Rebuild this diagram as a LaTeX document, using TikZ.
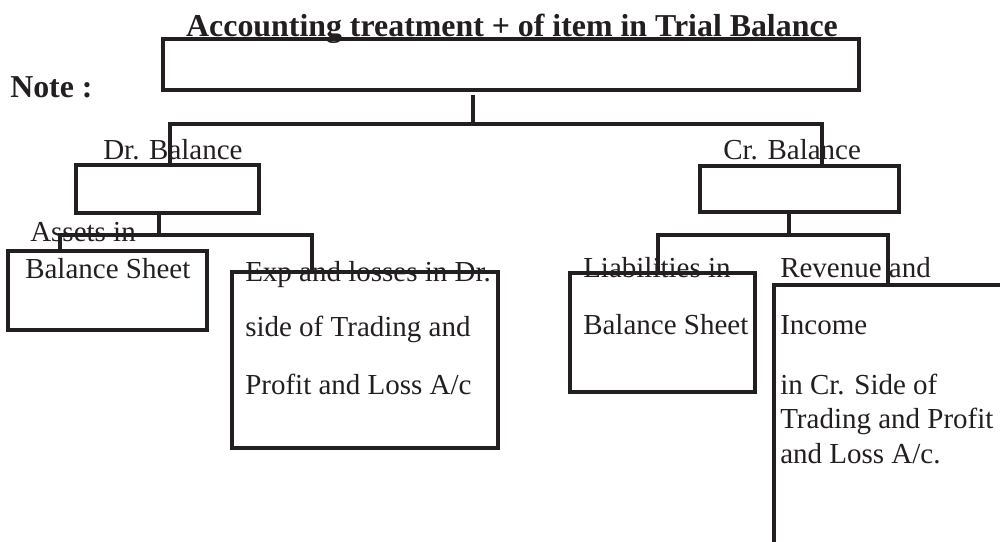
\documentclass[tikz,border=0pt]{standalone}
\usepackage{fontspec}
\setmainfont{Liberation Serif}
\usetikzlibrary{calc}
\definecolor{ink}{HTML}{231F20}
\begin{document}
\begin{tikzpicture}[x=0.75pt,y=-0.75pt,
  box/.style={draw=ink,line width=2.8pt,rectangle,inner sep=0pt,outer sep=0pt},
  wire/.style={draw=ink,line width=2.8pt,line join=miter},
  lbl/.style={anchor=base west,inner sep=0pt,text=ink,font=\fontsize{21.75}{24}\selectfont},
  bold/.style={inner sep=0pt,text=ink,font=\fontsize{23.9}{26}\selectfont\bfseries}]
\useasboundingbox (0,0) rectangle (1000,542);
\clip (0,0) rectangle (1000,542);
% texts
\node[bold,anchor=base] (title) at (512,37) {Accounting treatment + of item in Trial Balance};
\node[bold,anchor=base west] (note) at (10,98) {Note :};
\node[lbl] (drt) at (103,159) {Dr. Balance};
\node[lbl] (crt) at (723,159) {Cr. Balance};
\node[lbl] (as1) at (30,241) {Assets in};
\node[lbl] (as2) at (25,278) {Balance Sheet};
\node[lbl] (ex1) at (245,281) {Exp and losses in Dr.};
\node[lbl] (ex2) at (245,336) {side of Trading and};
\node[lbl] (ex3) at (245,394) {Profit and Loss A/c};
\node[lbl] (li1) at (583,277) {Liabilities in};
\node[lbl] (li2) at (583,334) {Balance Sheet};
\node[lbl] (re1) at (780,277) {Revenue and};
\node[lbl] (re2) at (780,334) {Income};
\node[lbl] (re3) at (780,394) {in Cr. Side of};
\node[lbl] (re4) at (780,428) {Trading and Profit};
\node[lbl] (re5) at (780,463) {and Loss A/c.};
% boxes
\node[box,minimum width=522pt,minimum height=38.25pt] (top) at (511,64.5) {};
\node[box,minimum width=137.25pt,minimum height=36pt] (dr) at (167.5,189) {};
\node[box,minimum width=149.25pt,minimum height=34.5pt] (cr) at (799.5,189) {};
\node[box,minimum width=149.25pt,minimum height=59.25pt] (bs) at (107.5,290.5) {};
\node[box,minimum width=199.5pt,minimum height=132pt] (exp) at (365,360) {};
\node[box,minimum width=138.75pt,minimum height=89.25pt] (liab) at (662.5,332.5) {};
\node[box,minimum width=199.5pt,minimum height=236.25pt] (rev) at (907,442.5) {};
% connectors
\coordinate (t1) at (473,124);
\draw[wire] ($(top.south -| t1)+(0,5)$) -- (t1);
\draw[wire] ([xshift=1.9pt]dr.north) |- (t1) -| ([xshift=16.9pt]cr.north);
\coordinate (d1) at (159,235);
\draw[wire] (dr.south -| d1) -- (d1);
\draw[wire] ([xshift=-35.6pt]bs.north) |- (d1) -| ([xshift=-39.75pt]exp.north);
\coordinate (c1) at (789,235);
\draw[wire] (cr.south -| c1) -- (c1);
\draw[wire] ([xshift=-3.4pt]liab.north) |- (c1) -| ([xshift=-14.25pt]rev.north);
\end{tikzpicture}
\end{document}
